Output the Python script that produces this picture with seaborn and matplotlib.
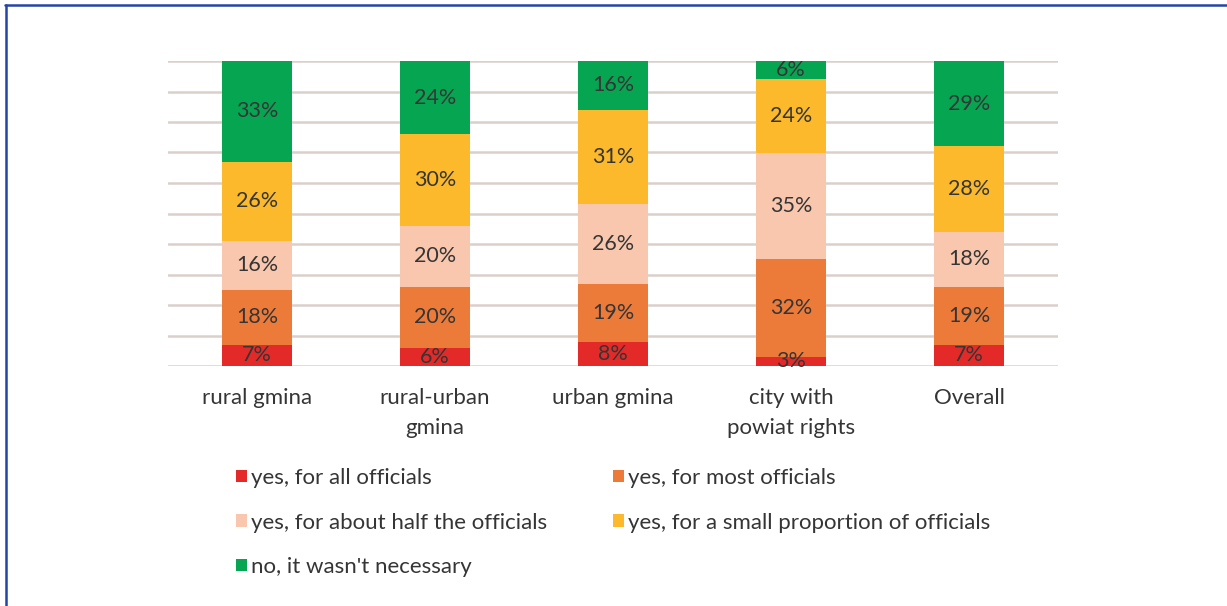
import matplotlib
matplotlib.use("Agg")
import matplotlib.pyplot as plt
from matplotlib.patches import Patch
from matplotlib.lines import Line2D
import seaborn as sns
import numpy as np

# Survey shares (%) per type of local government unit
categories = ["rural gmina", "rural-urban\ngmina", "urban gmina",
              "city with\npowiat rights", "Overall"]
all_officials = [7, 6, 8, 3, 7]
most_officials = [18, 20, 19, 32, 19]
half_officials = [16, 20, 26, 35, 18]
small_proportion = [26, 30, 31, 24, 28]
not_necessary = [33, 24, 16, 6, 29]

series_names = ["yes, for all officials", "yes, for most officials",
                "yes, for about half the officials",
                "yes, for a small proportion of officials",
                "no, it wasn't necessary"]
series_values = [all_officials, most_officials, half_officials,
                 small_proportion, not_necessary]
series_colors = ["#E42A28", "#EC7B3A", "#F8C7AE", "#FBB92B", "#06A552"]

sns.set_theme(style="white")
plt.rcParams["font.family"] = ["Lato", "DejaVu Sans"]
text_color = "#353535"

fig = plt.figure(figsize=(12.27, 6.06), dpi=100)
ax = fig.add_axes([168 / 1227, 1 - 366 / 606, 890 / 1227, 305 / 606])

bottom = np.zeros(len(categories))
for name, vals, col in zip(series_names, series_values, series_colors):
    vals = np.array(vals, dtype=float)
    sns.barplot(x=categories, y=vals, bottom=bottom, color=col,
                width=0.395, ax=ax, saturation=1, linewidth=0, zorder=3)
    cont = ax.containers[-1]
    ax.bar_label(cont, labels=[f"{int(v)}%" for v in vals],
                 label_type="center", fontsize=15.5, color=text_color,
                 zorder=5)
    bottom += vals

ax.set_ylim(0, 100)
ax.set_xlim(-0.5, len(categories) - 0.5)
ax.set_yticks(np.arange(0, 101, 10))
ax.yaxis.grid(True, color="#D9D0CC", linewidth=1.8, zorder=0)
ax.set_axisbelow(True)
ax.tick_params(axis="y", left=False, labelleft=False)
ax.tick_params(axis="x", bottom=False, labelsize=16, labelcolor=text_color,
               pad=10)
for lbl in ax.get_xticklabels():
    lbl.set_linespacing(1.6)
    lbl.set_verticalalignment("top")
for s in ax.spines.values():
    s.set_visible(False)
ax.set_xlabel("")
ax.set_ylabel("")

# Legend laid out row by row in two columns
handles = [Patch(facecolor=c, edgecolor="none") for c in series_colors]
order = [0, 2, 4, 1, 3]
fig.legend([handles[i] for i in order], [series_names[i] for i in order],
           ncol=2, loc="upper left", bbox_to_anchor=(225 / 1227, 1 - 457 / 606),
           frameon=False, fontsize=16, labelcolor=text_color,
           handlelength=0.48, handleheight=0.48, handletextpad=0.2,
           labelspacing=1.1, columnspacing=2.95, borderpad=0)

# Blue frame along the top and left edges
fig.add_artist(Line2D([5 / 1227, 1], [1 - 5 / 606, 1 - 5 / 606],
                      transform=fig.transFigure, color="#2545A6", linewidth=1.8))
fig.add_artist(Line2D([5.5 / 1227, 5.5 / 1227], [0, 1 - 5 / 606],
                      transform=fig.transFigure, color="#2545A6", linewidth=1.8))

fig.savefig("out.png", dpi=100, facecolor="white")
